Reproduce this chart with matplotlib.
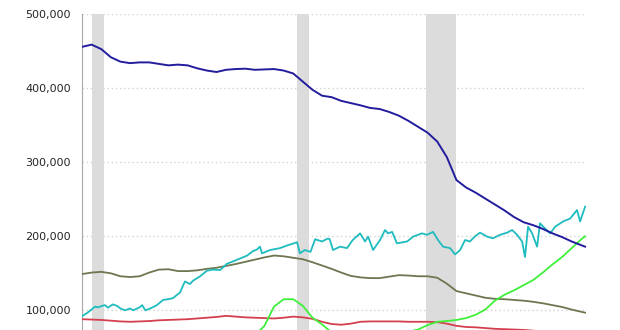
import matplotlib
matplotlib.use("Agg")
import matplotlib.pyplot as plt
import matplotlib.ticker as mticker
import numpy as np

# half-year grid, last point early 2016
years = list(np.arange(1990, 2016.01, 0.5)) + [2016.2]

blue = [456, 459, 453, 442, 436, 434, 435, 435, 433, 431, 432, 431, 427, 424,
        422, 425, 426, 426.5, 425, 425.5, 426, 424, 420, 409, 398, 390, 388,
        383, 380, 377, 373.5, 372, 368, 363, 356, 348, 340, 328, 307, 276, 266,
        259, 251, 243, 235, 226, 219, 215, 210, 204, 199, 193, 188, 186]

olive = [149, 151, 152, 150, 146, 145, 146, 151, 155, 155.5, 153, 153, 154,
         156, 157.5, 160, 162.5, 165.5, 168.5, 171.5, 174, 173, 171, 169, 165,
         160.5, 156, 151, 146.5, 144.5, 143.5, 143.5, 145.5, 147.5, 147, 146,
         146, 144, 136, 126, 123, 120, 117, 115.5, 115, 114, 113, 111.5, 109.5,
         107, 104.5, 101, 98, 96.8]

red = [88, 87.5, 87, 86, 85, 84.5, 85, 85.5, 86.5, 87, 87.5, 88, 89, 90, 91,
       92.5, 91.5, 90.5, 90, 89.5, 89, 90, 91.5, 90.5, 88.5, 84.5, 81.5, 80.5,
       82, 84.5, 85, 85, 85, 85, 84.5, 84.5, 84.5, 84, 82, 79, 77.5, 77, 76,
       75, 74.5, 74, 73.5, 72.5, 71.5, 70.5, 70, 69.5, 69, 69]

nan = np.nan
green = [nan] * 14 + [30, 38, 46, 56, 66, 79, 105, 115, 115, 106, 90, 81, 70,
                      64, 61, 60, 61, 63, 66, 69, 71, 74, 80, 84.5, 85.5, 87,
                      89.5, 94, 101, 113, 121, 127, 134, 141, 151, 162, 172,
                      184, 196, 200]

cyan_years = [1990.0, 1990.3, 1990.68, 1990.83, 1991.04, 1991.2, 1991.35, 1991.6,
              1991.82, 1992.0, 1992.24, 1992.5, 1992.66, 1993.0, 1993.13, 1993.3,
              1993.55, 1993.9, 1994.22, 1994.58, 1994.74, 1994.95, 1995.1, 1995.36,
              1995.62, 1995.78, 1996.15, 1996.5, 1996.82, 1997.2, 1997.55, 1997.86,
              1998.23, 1998.6, 1998.9, 1999.1, 1999.27, 1999.37, 1999.8, 2000.3,
              2000.73, 2001.2, 2001.35, 2001.6, 2001.9, 2002.14, 2002.5, 2002.8,
              2002.9, 2003.07, 2003.44, 2003.8, 2004.1, 2004.48, 2004.74, 2004.9,
              2005.16, 2005.52, 2005.78, 2005.94, 2006.15, 2006.4, 2006.93, 2007.24,
              2007.7, 2007.97, 2008.28, 2008.54, 2008.8, 2009.17, 2009.43, 2009.69,
              2009.95, 2010.2, 2010.47, 2010.73, 2011.1, 2011.4, 2011.77, 2012.14,
              2012.4, 2012.66, 2012.92, 2013.07, 2013.23, 2013.44, 2013.7, 2013.85,
              2014.1, 2014.38, 2014.64, 2015.05, 2015.42, 2015.78, 2015.94, 2016.2]
cyan = [92, 97, 105, 104, 106, 107, 103.5, 108, 106, 102.5, 100, 102.5, 100, 104,
        107, 100, 102.5, 107, 114, 115.5, 116.5, 121, 124, 139, 135.5, 140, 146,
        153.5, 155, 154.5, 163, 166, 170, 174, 180, 182, 186, 177, 181.5, 184, 188,
        192, 177, 181.5, 179, 196, 193, 197, 196, 181.5, 186, 184, 195, 204, 193,
        199.5, 181.5, 195, 208.5, 204, 206, 190.5, 193, 199.5, 204, 202, 206, 195,
        186, 184, 175.5, 181.5, 195, 193, 200, 205, 199.5, 197.3, 202, 205, 208.5,
        202, 193, 172, 213, 204, 186, 217.6, 211, 204, 213, 220, 224, 235.5, 220,
        240]

recessions = [(1990.5, 1991.17), (2001.17, 2001.83), (2007.92, 2009.5)]

fig = plt.figure(figsize=(6.2, 3.3), dpi=100)
fig.patch.set_facecolor("white")
ax = fig.add_axes([0.1323, 0.0, 0.8145, 0.9567])

for start, end in recessions:
    ax.axvspan(start, end, color="#dcdcdc", lw=0, zorder=1)

k = 1000
ax.plot(years, [v * k for v in olive], color="#6c7750", lw=1.3, zorder=3)
ax.plot(years, [v * k for v in red], color="#d43f4e", lw=1.3, zorder=3)
ax.plot(cyan_years, [v * k for v in cyan], color="#1fbcbf", lw=1.3, zorder=3)
ax.plot(years, [v * k for v in green], color="#3ff03a", lw=1.3, zorder=3)
ax.plot(years, [v * k for v in blue], color="#231d9e", lw=1.4, zorder=4)

ax.set_xlim(1990, 2016.3)
ax.set_ylim(73400, 500000)
ax.set_yticks([100000, 200000, 300000, 400000, 500000])
ax.yaxis.set_major_formatter(mticker.StrMethodFormatter("{x:,.0f}"))
ax.yaxis.grid(True, color="#d2d2d2", linestyle=(0, (1, 2)), linewidth=1.0, zorder=0)
ax.set_axisbelow(True)
ax.set_xticks([])

for side in ("top", "right", "bottom"):
    ax.spines[side].set_visible(False)
ax.spines["left"].set_color("#a8a8a8")
ax.tick_params(axis="y", length=0, labelsize=8, labelcolor="#262626", pad=8)

fig.savefig("out.png", dpi=100, facecolor="white")
